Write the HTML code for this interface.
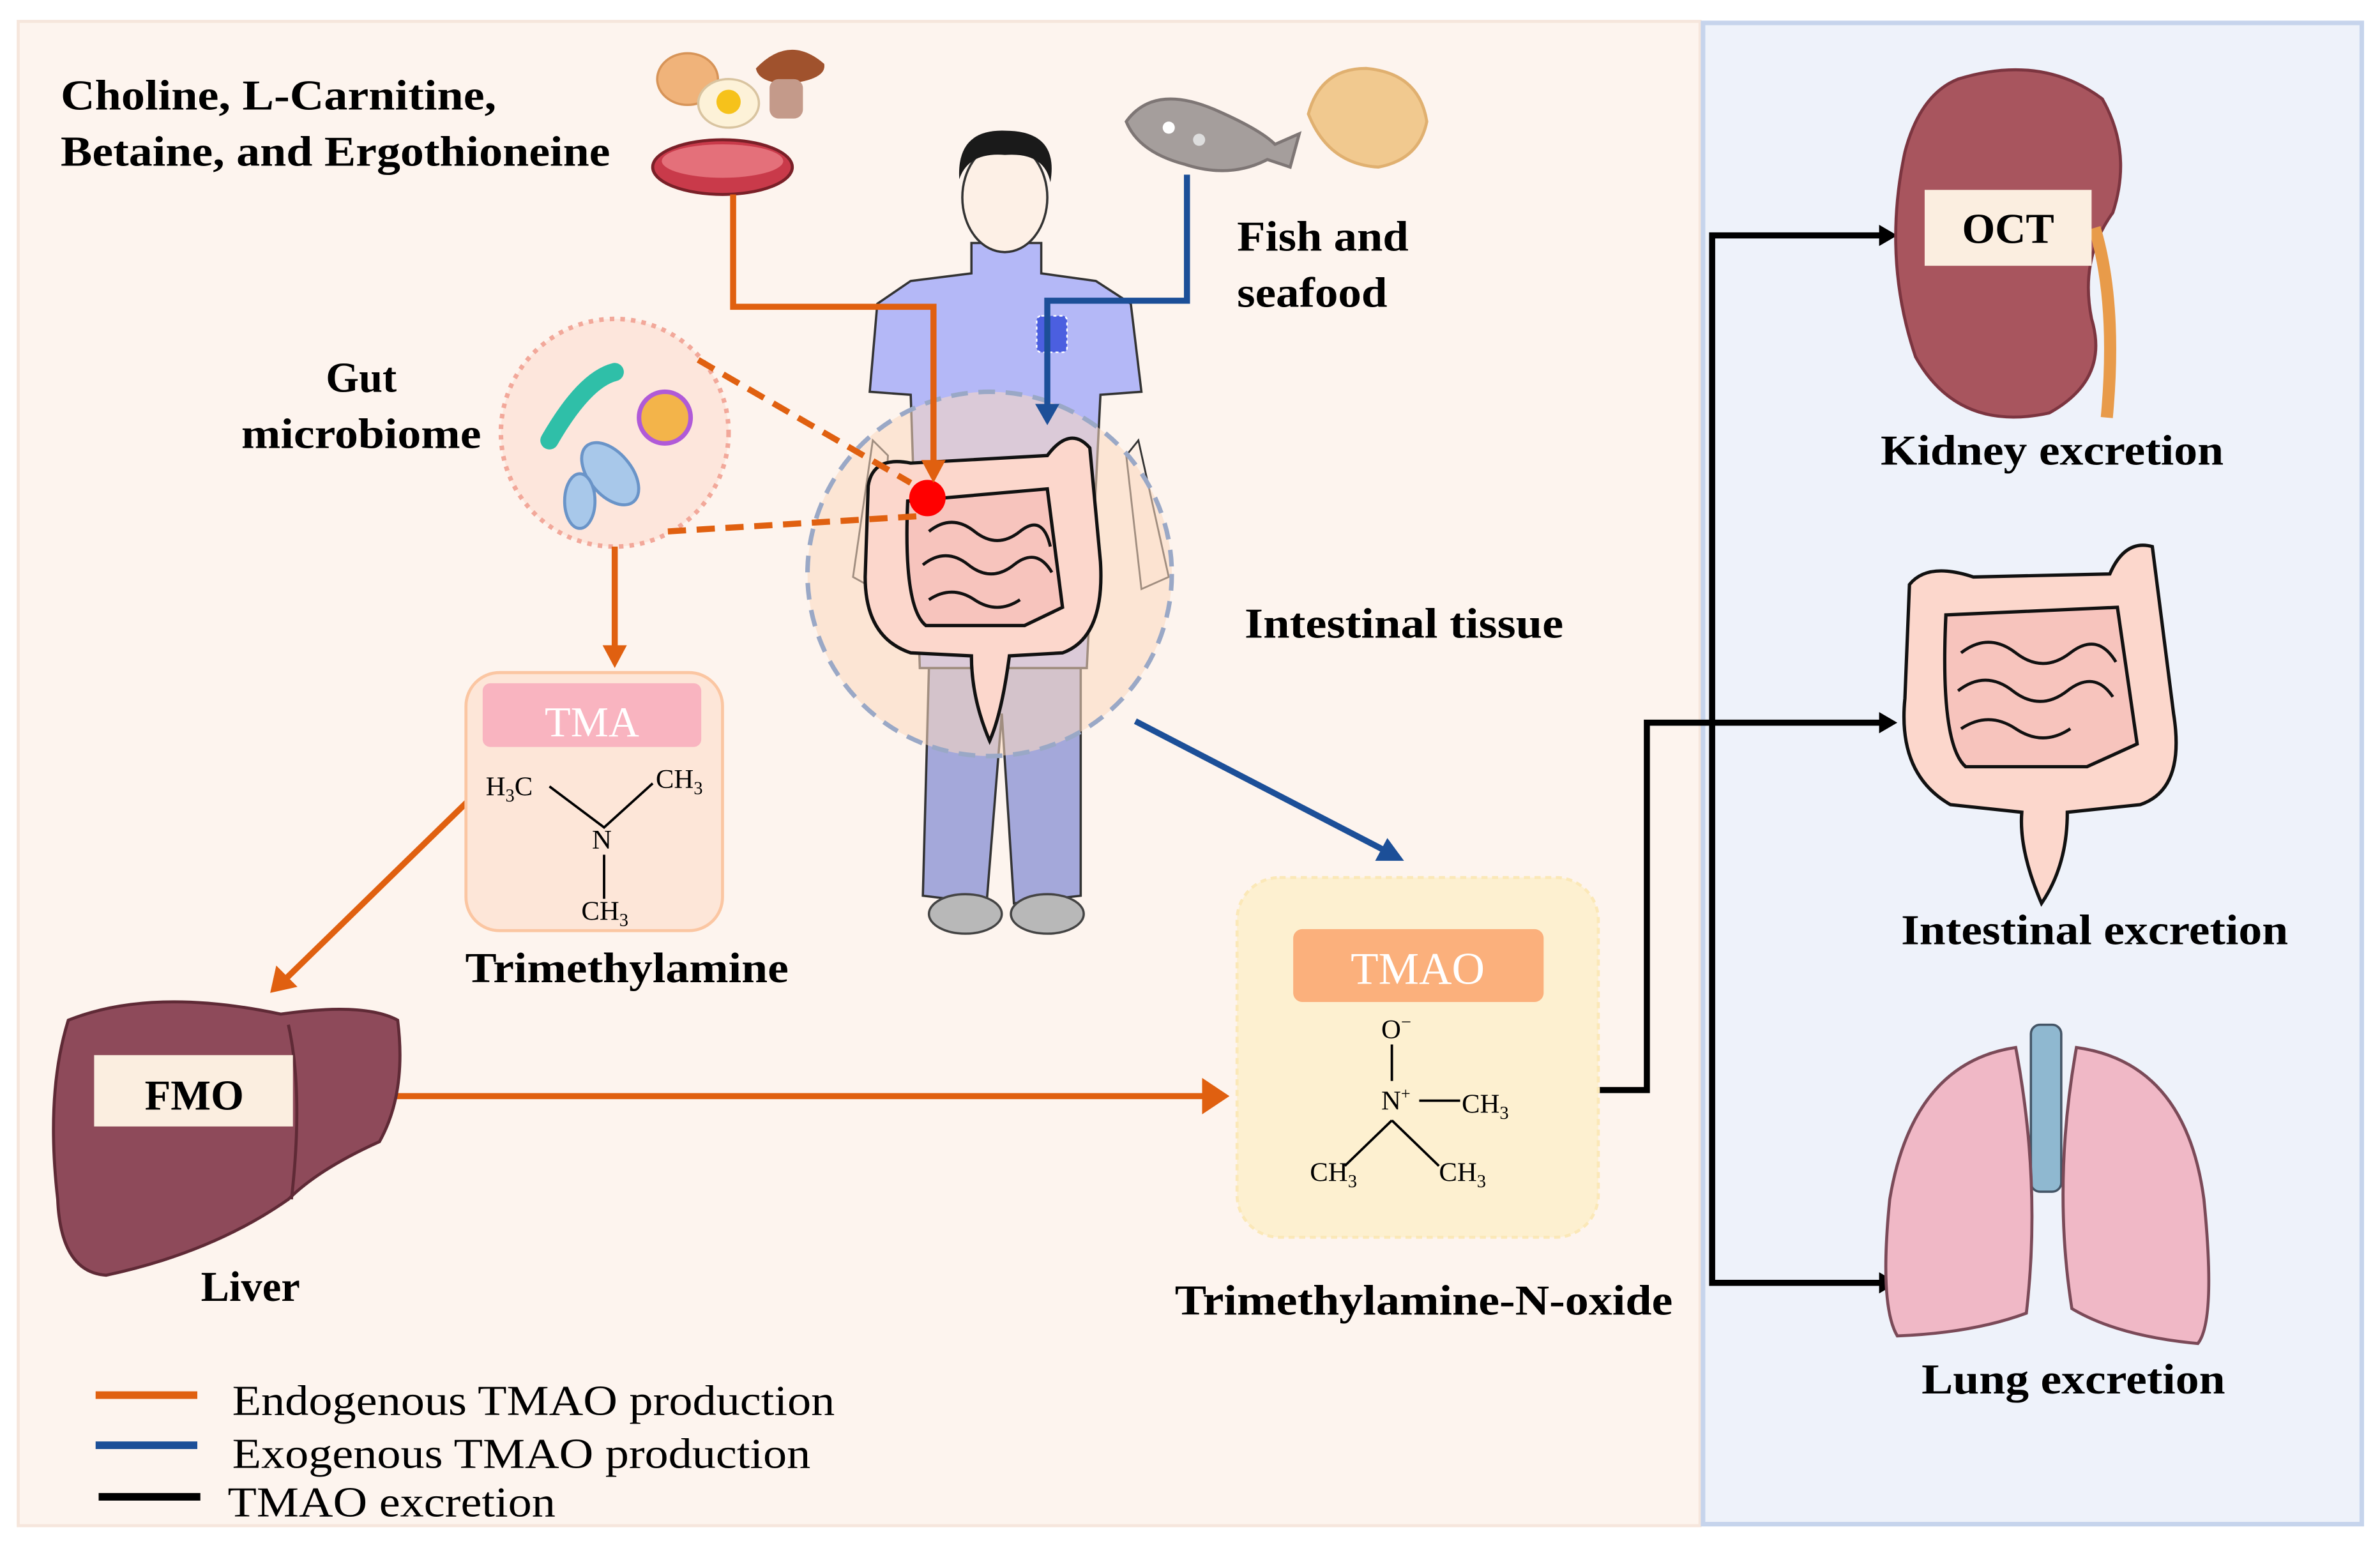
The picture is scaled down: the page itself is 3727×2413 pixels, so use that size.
<!DOCTYPE html>
<html><head><meta charset="utf-8"><style>
html,body{margin:0;padding:0;background:#fff;}
svg{display:block;}
text{font-family:"Liberation Serif",serif;}
.b{font-weight:bold;fill:#000;}
</style></head><body>
<svg width="3727" height="2413" viewBox="0 0 1568 1015" xmlns="http://www.w3.org/2000/svg">
<rect width="1568" height="1015" fill="#fff"/>
<rect x="12" y="14" width="1108" height="991" fill="#fdf4ee" stroke="#f6e6dc" stroke-width="2"/>
<rect x="1122" y="15" width="434" height="989" fill="#eef2fa" stroke="#c6d4ec" stroke-width="3"/>

<text class="b" x="40" y="72" font-size="28" textLength="287" lengthAdjust="spacingAndGlyphs">Choline, L-Carnitine,</text>
<text class="b" x="40" y="109" font-size="28" textLength="362" lengthAdjust="spacingAndGlyphs">Betaine, and Ergothioneine</text>

<ellipse cx="453" cy="52" rx="20" ry="17" fill="#f0b37a" stroke="#d79458" stroke-width="1.5"/>
<ellipse cx="480" cy="68" rx="20" ry="16" fill="#fdf2d8" stroke="#d9c4a0" stroke-width="1.5"/>
<circle cx="480" cy="67" r="8" fill="#f6c21b"/>
<path d="M498,45 Q520,22 543,42 Q545,52 520,55 Q500,55 498,45Z" fill="#a0522d"/>
<rect x="507" y="52" width="22" height="26" rx="6" fill="#c49a8a"/>
<ellipse cx="476" cy="110" rx="46" ry="18" fill="#c93a4a" stroke="#7a2028" stroke-width="2"/>
<ellipse cx="476" cy="106" rx="40" ry="11" fill="#e4707a"/>
<path d="M742,80 Q760,55 800,72 Q830,85 840,95 L856,88 L850,110 L835,105 Q810,118 780,108 Q750,100 742,80Z" fill="#a59e9c" stroke="#7e7675" stroke-width="2"/>
<circle cx="770" cy="84" r="4" fill="#fff"/><circle cx="790" cy="92" r="4" fill="#ddd"/>
<path d="M862,75 Q870,45 900,45 Q935,48 940,80 Q935,105 908,110 Q875,108 862,75Z" fill="#f1c98f" stroke="#e0b070" stroke-width="2"/>

<text class="b" x="815" y="165" font-size="28" textLength="113" lengthAdjust="spacingAndGlyphs">Fish and</text>
<text class="b" x="815" y="202" font-size="28" textLength="99" lengthAdjust="spacingAndGlyphs">seafood</text>

<path d="M575,290 L562,380 L580,390 L585,300Z" fill="#fdf0e6" stroke="#333" stroke-width="1.2"/>
<path d="M750,290 L770,380 L752,388 L742,300Z" fill="#fdf0e6" stroke="#333" stroke-width="1.2"/>
<path d="M612,440 L608,590 L650,595 L660,470 L668,595 L712,590 L712,440Z" fill="#a4a8da" stroke="#333" stroke-width="1.5"/>
<ellipse cx="636" cy="602" rx="24" ry="13" fill="#b8b8b8" stroke="#444" stroke-width="1.5"/>
<ellipse cx="690" cy="602" rx="24" ry="13" fill="#b8b8b8" stroke="#444" stroke-width="1.5"/>
<path d="M640,160 L640,180 L600,185 L578,200 L573,258 L600,260 L606,440 L716,440 L725,260 L752,258 L745,200 L722,185 L686,180 L686,160Z" fill="#b4b8f7" stroke="#333" stroke-width="1.5"/>
<rect x="683" y="208" width="20" height="24" rx="3" fill="#4b5fe0" stroke="#fff" stroke-dasharray="2 2"/>
<ellipse cx="662" cy="130" rx="28" ry="36" fill="#fdf0e6" stroke="#333" stroke-width="1.5"/>
<path d="M632,118 Q630,85 662,86 Q698,86 692,120 Q688,100 662,102 Q638,100 632,118Z" fill="#1a1a1a"/>

<circle cx="652" cy="378" r="120" fill="#fbd8bf" fill-opacity="0.55" stroke="#9aa8c6" stroke-width="3" stroke-dasharray="11 7"/>
<g fill="#fcd7cc" stroke="#111" stroke-width="2.2">
<path d="M572,320 Q575,300 600,305 L690,300 Q705,280 718,295 L725,370 Q728,420 700,430 L665,432 Q660,470 652,488 Q640,460 640,432 L600,430 Q570,420 570,380Z"/>
<path d="M598,330 L690,322 L700,400 L675,412 L610,412 Q595,400 598,330Z" fill="#f7c4bd"/>
<path d="M612,350 q15,-12 30,0 t30,0 t20,10 M608,372 q15,-12 30,0 t30,0 t25,5 M612,395 q15,-10 30,0 t30,0" fill="none" stroke-width="2"/>
</g>
<circle cx="611" cy="328" r="12" fill="#f00"/>

<circle cx="405" cy="285" r="75" fill="#fde6dc" stroke="#f2a89a" stroke-width="3" stroke-dasharray="3 4"/>
<path d="M362,290 Q385,250 405,245" stroke="#2fbfa8" stroke-width="12" fill="none" stroke-linecap="round"/>
<circle cx="438" cy="275" r="17" fill="#f3b44a" stroke="#b05ad8" stroke-width="3"/>
<ellipse cx="402" cy="312" rx="14" ry="24" transform="rotate(-40 402 312)" fill="#a8c8ea" stroke="#6a94c8" stroke-width="2"/>
<ellipse cx="382" cy="330" rx="10" ry="18" fill="#a8c8ea" stroke="#6a94c8" stroke-width="2"/>
<text class="b" x="238" y="258" font-size="28" text-anchor="middle">Gut</text>
<text class="b" x="238" y="295" font-size="28" text-anchor="middle" textLength="158" lengthAdjust="spacingAndGlyphs">microbiome</text>

<g fill="none" stroke-width="4">
<path d="M483,128 V202 H615 V305" stroke="#e06010"/>
<path d="M782,115 V198 H690 V268" stroke="#1c4f98"/>
<path d="M460,237 L600,318 M440,350 L605,340" stroke="#e06010" stroke-dasharray="12 7"/>
<path d="M405,360 V428" stroke="#e06010"/>
<path d="M308,528 L188,645" stroke="#e06010"/>
<path d="M260,722 H795" stroke="#e06010"/>
<path d="M748,475 L912,560" stroke="#1c4f98"/>
<path d="M1053,718 H1085 V476 H1240 M1240,155 H1128 V845 H1240" stroke="#000"/>
</g>
<path d="M607,303 L623,303 L615,318Z" fill="#e06010"/>
<path d="M682,266 L698,266 L690,280Z" fill="#1c4f98"/>
<path d="M397,425 L413,425 L405,440Z" fill="#e06010"/>
<path d="M178,654 L182,636 L196,650Z" fill="#e06010"/>
<path d="M792,710 L810,722 L792,734Z" fill="#e06010"/>
<path d="M925,567 L906,567 L914,552Z" fill="#1c4f98"/>
<path d="M1238,148 L1250,155 L1238,162Z M1238,469 L1250,476 L1238,483Z M1238,838 L1250,845 L1238,852Z" fill="#000"/>

<text class="b" x="820" y="420" font-size="28" textLength="210" lengthAdjust="spacingAndGlyphs">Intestinal tissue</text>

<rect x="307" y="443" width="169" height="170" rx="22" fill="#fde6d8" stroke="#fbc6a2" stroke-width="2"/>
<rect x="318" y="450" width="144" height="42" rx="5" fill="#f9b4c0"/>
<text x="390" y="485" font-size="28" fill="#fff" text-anchor="middle">TMA</text>
<g font-size="18" fill="#000">
<text x="320" y="524">H<tspan font-size="12" dy="4">3</tspan><tspan dy="-4">C</tspan></text>
<text x="432" y="519">CH<tspan font-size="12" dy="4">3</tspan></text>
<text x="390" y="559">N</text>
<text x="383" y="606">CH<tspan font-size="12" dy="4">3</tspan></text>
</g>
<path d="M362,518 L398,545 L430,516 M398,563 V592" stroke="#000" stroke-width="1.6" fill="none"/>
<text class="b" x="413" y="647" font-size="28" text-anchor="middle" textLength="213" lengthAdjust="spacingAndGlyphs">Trimethylamine</text>

<path d="M45,672 Q100,650 185,668 Q240,660 262,672 Q268,720 250,752 Q210,770 190,790 Q140,825 70,840 Q40,838 38,790 Q30,720 45,672Z" fill="#8e4a5a" stroke="#5f2a36" stroke-width="2"/>
<path d="M190,675 Q200,720 192,790" stroke="#5f2a36" stroke-width="2" fill="none"/>
<rect x="62" y="695" width="131" height="47" fill="#fbeee0"/>
<text class="b" x="128" y="731" font-size="28" text-anchor="middle">FMO</text>
<text class="b" x="165" y="857" font-size="28" text-anchor="middle">Liver</text>

<rect x="815" y="578" width="238" height="237" rx="28" fill="#fdf0d0" stroke="#fbe8b8" stroke-width="2" stroke-dasharray="4 3"/>
<rect x="852" y="612" width="165" height="48" rx="6" fill="#fbb07c"/>
<text x="934" y="648" font-size="30" fill="#fff" text-anchor="middle">TMAO</text>
<g font-size="18" fill="#000">
<text x="910" y="684">O<tspan font-size="12" dy="-7">−</tspan></text>
<text x="910" y="731">N<tspan font-size="11" dy="-7">+</tspan></text>
<text x="963" y="733">CH<tspan font-size="12" dy="4">3</tspan></text>
<text x="863" y="778">CH<tspan font-size="12" dy="4">3</tspan></text>
<text x="948" y="778">CH<tspan font-size="12" dy="4">3</tspan></text>
</g>
<path d="M917,688 V712 M935,725 H962 M917,738 L886,768 M917,738 L948,768" stroke="#000" stroke-width="1.6" fill="none"/>
<text class="b" x="938" y="866" font-size="28" text-anchor="middle" textLength="328" lengthAdjust="spacingAndGlyphs">Trimethylamine-N-oxide</text>

<path d="M1290,52 Q1345,35 1385,65 Q1405,100 1392,140 Q1370,170 1378,210 Q1390,250 1350,272 Q1290,285 1262,235 Q1240,170 1255,100 Q1265,62 1290,52Z" fill="#a8555e" stroke="#7c3540" stroke-width="2"/>
<path d="M1380,150 Q1395,200 1388,275" stroke="#e89b4a" stroke-width="8" fill="none"/>
<rect x="1268" y="125" width="110" height="50" fill="#fbeee0"/>
<text class="b" x="1323" y="160" font-size="28" text-anchor="middle">OCT</text>
<text class="b" x="1352" y="306" font-size="28" text-anchor="middle" textLength="226" lengthAdjust="spacingAndGlyphs">Kidney excretion</text>

<g fill="#fcd7cc" stroke="#111" stroke-width="2.2">
<path d="M1258,385 Q1270,370 1300,380 L1390,378 Q1400,355 1418,360 L1432,470 Q1440,520 1410,530 L1362,535 Q1362,570 1345,595 Q1330,560 1332,535 L1285,530 Q1250,510 1255,460Z"/>
<path d="M1282,405 L1395,400 L1408,490 L1375,505 L1295,505 Q1278,490 1282,405Z" fill="#f7c4bd"/>
<path d="M1292,430 q18,-14 36,0 t36,0 t30,6 M1290,455 q18,-14 36,0 t36,0 t30,4 M1292,480 q18,-12 36,0 t36,0" fill="none" stroke-width="2"/>
</g>
<text class="b" x="1380" y="622" font-size="28" text-anchor="middle" textLength="255" lengthAdjust="spacingAndGlyphs">Intestinal excretion</text>

<rect x="1338" y="675" width="20" height="110" rx="6" fill="#8fb8d0" stroke="#456" stroke-width="1.5"/>
<path d="M1328,690 Q1260,700 1245,790 Q1238,860 1250,880 Q1300,878 1335,865 Q1345,780 1328,690Z" fill="#f0b8c6" stroke="#7b4a58" stroke-width="2"/>
<path d="M1368,690 Q1440,700 1452,790 Q1460,870 1448,885 Q1395,880 1365,862 Q1352,780 1368,690Z" fill="#f0b8c6" stroke="#7b4a58" stroke-width="2"/>
<text class="b" x="1366" y="918" font-size="28" text-anchor="middle" textLength="200" lengthAdjust="spacingAndGlyphs">Lung excretion</text>

<path d="M63,919 H130" stroke="#e06010" stroke-width="5"/>
<path d="M63,952 H130" stroke="#1c4f98" stroke-width="5"/>
<path d="M65,986 H132" stroke="#000" stroke-width="5"/>
<text x="153" y="932" font-size="28" textLength="397" lengthAdjust="spacingAndGlyphs">Endogenous TMAO production</text>
<text x="153" y="967" font-size="28" textLength="381" lengthAdjust="spacingAndGlyphs">Exogenous TMAO production</text>
<text x="150" y="999" font-size="28" textLength="216" lengthAdjust="spacingAndGlyphs">TMAO excretion</text>
</svg>
</body></html>
